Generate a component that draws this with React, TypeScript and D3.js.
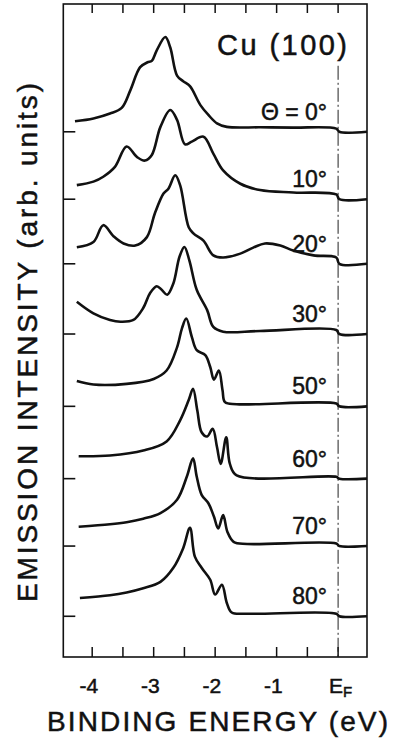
import React, { useRef, useEffect } from "react";
import * as d3 from "d3";

const W = 395;
const H = 739;

// emission angles, top to bottom
const angles = ["0°", "10°", "20°", "30°", "50°", "60°", "70°", "80°"];
// vertical offset of each spectrum (arb. units)
const offsets = [7.48, 6.52, 5.6, 4.6, 3.57, 2.54, 1.58, 0.58];

// [binding energy (eV), intensity (arb. units)]
const spec0 = [
  [-4.28, 0.15], [-3.98, 0.19], [-3.71, 0.26], [-3.52, 0.34], [-3.38, 0.59],
  [-3.22, 0.92], [-3.1, 0.99], [-3.03, 1.01], [-2.95, 1.16], [-2.81, 1.35],
  [-2.73, 1.2], [-2.62, 0.8], [-2.52, 0.72], [-2.41, 0.65], [-2.24, 0.38],
  [-2.11, 0.24], [-1.97, 0.12], [-1.81, 0.07], [-1.27, 0.064], [-0.73, 0.06],
  [-0.03, 0.045], [0.02, 0], [0.47, 0],
];
const spec10 = [
  [-4.25, 0.2], [-3.98, 0.25], [-3.82, 0.32], [-3.63, 0.46], [-3.44, 0.75],
  [-3.27, 0.6], [-3.14, 0.55], [-3.03, 0.63], [-2.89, 1.03], [-2.73, 1.27],
  [-2.62, 1.13], [-2.49, 0.78], [-2.38, 0.82], [-2.19, 0.89], [-2.03, 0.65],
  [-1.87, 0.41], [-1.59, 0.22], [-1.27, 0.13], [-0.73, 0.095], [-0.03, 0.067],
  [0.02, 0], [0.47, 0],
];
const spec20 = [
  [-4.25, 0.235], [-3.98, 0.31], [-3.82, 0.55], [-3.65, 0.39], [-3.49, 0.29],
  [-3.3, 0.26], [-3.11, 0.38], [-2.98, 0.72], [-2.84, 1.0], [-2.76, 1.07],
  [-2.65, 1.26], [-2.57, 1.12], [-2.43, 0.52], [-2.35, 0.43], [-2.19, 0.33],
  [-2.03, 0.12], [-1.87, 0.09], [-1.59, 0.145], [-1.38, 0.23], [-1.19, 0.29],
  [-0.94, 0.26], [-0.73, 0.19], [-0.4, 0.12], [-0.03, 0.09], [0.02, 0], [0.47, 0],
];
const spec30 = [
  [-4.25, 0.46], [-3.98, 0.295], [-3.71, 0.2], [-3.54, 0.175], [-3.33, 0.2],
  [-3.17, 0.37], [-3.06, 0.58], [-2.95, 0.68], [-2.87, 0.63], [-2.78, 0.56],
  [-2.68, 0.72], [-2.58, 1.1], [-2.5, 1.24], [-2.42, 1.05], [-2.3, 0.63],
  [-2.13, 0.34], [-2.03, 0.1], [-1.87, 0.033], [-1.27, 0.043], [-0.03, 0.057],
  [0.02, 0], [0.47, 0],
];
const spec50 = [
  [-4.25, 0.36], [-3.98, 0.31], [-3.44, 0.32], [-3.0, 0.39], [-2.79, 0.51],
  [-2.62, 0.84], [-2.54, 1.11], [-2.47, 1.25], [-2.38, 0.99], [-2.3, 0.8],
  [-2.16, 0.73], [-2.08, 0.56], [-2.02, 0.38], [-1.94, 0.51], [-1.88, 0.23],
  [-1.84, 0.06], [-1.65, 0.03], [-0.03, 0.04], [0.02, 0], [0.47, 0],
];
const spec60 = [
  [-4.22, 0.32], [-3.71, 0.33], [-3.17, 0.4], [-2.79, 0.53], [-2.57, 0.83],
  [-2.43, 1.12], [-2.36, 1.28], [-2.29, 0.97], [-2.22, 0.66], [-2.13, 0.6],
  [-2.04, 0.71], [-1.97, 0.45], [-1.91, 0.21], [-1.82, 0.59], [-1.76, 0.21],
  [-1.65, 0.047], [-0.03, 0.026], [0.02, 0], [0.47, 0],
];
const spec70 = [
  [-4.22, 0.275], [-3.71, 0.31], [-3.44, 0.34], [-3.17, 0.39], [-2.89, 0.47],
  [-2.62, 0.66], [-2.46, 0.99], [-2.36, 1.25], [-2.3, 0.99], [-2.22, 0.73],
  [-2.11, 0.61], [-2.02, 0.42], [-1.95, 0.25], [-1.87, 0.44], [-1.8, 0.2],
  [-1.7, 0.06], [-1.48, 0.03], [-0.03, 0.036], [0.02, 0], [0.47, 0],
];
const spec80 = [
  [-4.2, 0.26], [-3.71, 0.3], [-3.44, 0.34], [-3.17, 0.4], [-2.89, 0.49],
  [-2.68, 0.69], [-2.52, 0.97], [-2.41, 1.26], [-2.33, 0.85], [-2.22, 0.69],
  [-2.08, 0.52], [-2.0, 0.31], [-1.89, 0.45], [-1.81, 0.19], [-1.73, 0.054],
  [-1.48, 0.036], [-0.03, 0.036], [0.02, 0], [0.47, 0],
];
const spectra = [spec0, spec10, spec20, spec30, spec50, spec60, spec70, spec80];

const xTicks = [-4, -3.5, -3, -2.5, -2, -1.5, -1, -0.5, 0];
const xLabels = [-4, -3, -2, -1];

const FONT = "'Liberation Sans', Arial, sans-serif";

const App = () => {
  const svgRef = useRef(null);

  useEffect(() => {
    const svg = d3.select(svgRef.current);
    svg.selectAll("*").remove();

    const left = 63.3, right = 367, top = 4, bottom = 657;
    const x = d3.scaleLinear().domain([-4.47, 0.47]).range([left, right]);
    const y = d3.scaleLinear().domain([0, 9.3]).range([bottom, top]);

    svg.append("rect").attr("width", W).attr("height", H).attr("fill", "#fff");

    // frame
    svg.append("rect")
      .attr("x", left).attr("y", top)
      .attr("width", right - left).attr("height", bottom - top)
      .attr("fill", "none").attr("stroke", "#111").attr("stroke-width", 1.6);

    // top + bottom ticks
    svg.append("g").selectAll("line")
      .data(xTicks).join("line")
      .attr("x1", d => x(d)).attr("x2", d => x(d))
      .attr("y1", top).attr("y2", top + 9)
      .attr("stroke", "#111").attr("stroke-width", 1.5);
    svg.append("g").selectAll("line")
      .data(xTicks).join("line")
      .attr("x1", d => x(d)).attr("x2", d => x(d))
      .attr("y1", bottom).attr("y2", bottom - 10)
      .attr("stroke", "#111").attr("stroke-width", 1.5);

    // left ticks = zero level of each spectrum
    svg.append("g").selectAll("line")
      .data(offsets).join("line")
      .attr("x1", left).attr("x2", left + 12)
      .attr("y1", d => y(d)).attr("y2", d => y(d))
      .attr("stroke", "#111").attr("stroke-width", 1.6);

    // Fermi level
    svg.append("line")
      .attr("x1", x(0)).attr("x2", x(0))
      .attr("y1", y(8.42)).attr("y2", bottom)
      .attr("stroke", "#222").attr("stroke-width", 1)
      .attr("stroke-dasharray", "14,3,2,3");

    // spectra
    spectra.forEach((spec, i) => {
      const line = d3.line()
        .x(d => x(d[0]))
        .y(d => y(offsets[i] + d[1]))
        .curve(d3.curveCatmullRom.alpha(0.5));
      svg.append("path")
        .attr("d", line(spec))
        .attr("fill", "none")
        .attr("stroke", "#111")
        .attr("stroke-width", 2.6)
        .attr("stroke-linejoin", "round");
    });

    const txt = (sel) => sel
      .attr("font-family", FONT)
      .attr("fill", "#111")
      .attr("stroke", "#111")
      .attr("stroke-width", 0.5);

    // angle labels
    svg.append("g").selectAll("text")
      .data(angles).join("text")
      .attr("x", x(-0.18))
      .attr("y", (d, i) => y(offsets[i]) - 12)
      .attr("text-anchor", "end")
      .attr("font-size", 23)
      .call(txt)
      .text((d, i) => (i === 0 ? "Θ =  " + d : d));

    svg.append("text")
      .attr("x", x(-1.97)).attr("y", y(8.57))
      .attr("font-size", 29)
      .attr("textLength", 130).attr("lengthAdjust", "spacing")
      .call(txt)
      .text("Cu (100)");

    // x tick labels
    svg.append("g").selectAll("text")
      .data(xLabels).join("text")
      .attr("x", d => x(d) + 6)
      .attr("y", 693)
      .attr("text-anchor", "end")
      .attr("font-size", 21)
      .call(txt)
      .text(d => String(d));

    const ef = svg.append("text")
      .attr("x", x(0) - 9).attr("y", 693)
      .attr("font-size", 21)
      .call(txt);
    ef.append("tspan").text("E");
    ef.append("tspan").attr("font-size", 15).attr("dy", 4).text("F");

    svg.append("text")
      .attr("x", 47).attr("y", 731)
      .attr("font-size", 28)
      .attr("textLength", 341).attr("lengthAdjust", "spacing")
      .call(txt)
      .text("BINDING ENERGY (eV)");

    svg.append("text")
      .attr("transform", "translate(37,602) rotate(-90)")
      .attr("font-size", 28)
      .attr("textLength", 519).attr("lengthAdjust", "spacing")
      .call(txt)
      .text("EMISSION INTENSITY (arb. units)");
  }, []);

  return (
    <div style={{ position: "absolute", left: 0, top: 0, width: W, height: H, background: "#fff" }}>
      <svg ref={svgRef} width={W} height={H} />
    </div>
  );
};

export default App;
